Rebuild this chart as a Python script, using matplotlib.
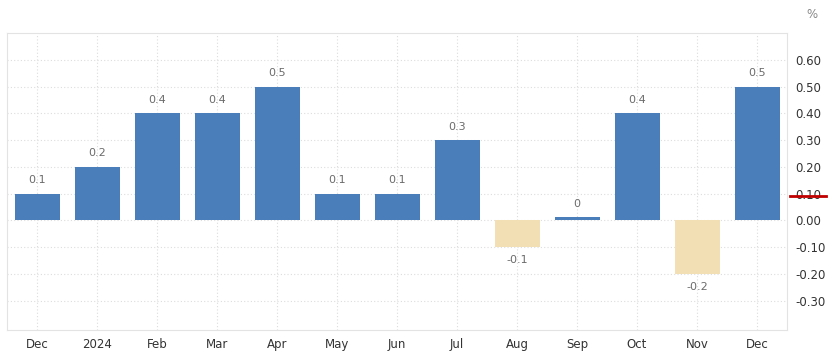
import matplotlib
matplotlib.use("Agg")
import matplotlib.pyplot as plt
import matplotlib.transforms as mtransforms

# monthly change, %
months = ["Dec", "2024", "Feb", "Mar", "Apr", "May", "Jun", "Jul",
          "Aug", "Sep", "Oct", "Nov", "Dec"]
values = [0.1, 0.2, 0.4, 0.4, 0.5, 0.1, 0.1, 0.3, -0.1, 0.0, 0.4, -0.2, 0.5]
value_labels = ["0.1", "0.2", "0.4", "0.4", "0.5", "0.1", "0.1", "0.3",
                "-0.1", "0", "0.4", "-0.2", "0.5"]
y_ticks = [-0.3, -0.2, -0.1, 0.0, 0.1, 0.2, 0.3, 0.4, 0.5, 0.6]
marker_value = 0.09  # red marker on the right axis

blue = "#4a7ebb"
beige = "#f2dfb4"

fig = plt.figure(figsize=(8.3, 3.52), dpi=100)
ax = fig.add_axes([7 / 830, 22 / 352, 780 / 830, 297 / 352])

x = list(range(len(values)))
colors = [blue if v >= 0 else beige for v in values]
heights = [v if v != 0 else 0.012 for v in values]
ax.bar(x, heights, width=0.75, color=colors, zorder=3)

for xi, v, lab in zip(x, values, value_labels):
    if v >= 0:
        ax.annotate(lab, (xi, max(v, 0.012)), xytext=(0, 6), textcoords="offset points",
                    ha="center", va="bottom", fontsize=8, color="#6b6b6b")
    else:
        ax.annotate(lab, (xi, v), xytext=(0, -6), textcoords="offset points",
                    ha="center", va="top", fontsize=8, color="#6b6b6b")

ax.set_xlim(-0.5, len(values) - 0.5)
ax.set_ylim(-0.41, 0.70)
ax.set_xticks(x)
ax.set_xticklabels(months)
ax.set_yticks(y_ticks)
ax.set_yticklabels(["%.2f" % t for t in y_ticks])
ax.yaxis.tick_right()
ax.tick_params(axis="both", length=0, labelsize=8.5, colors="#333333")
ax.tick_params(axis="y", pad=6)
ax.tick_params(axis="x", pad=6)

ax.grid(True, color="#dddddd", linestyle=(0, (1, 2)), linewidth=0.8, zorder=0)
for s in ax.spines.values():
    s.set_color("#e3e3e3")
    s.set_linewidth(0.8)

# red marker line next to the right axis
trans = mtransforms.blended_transform_factory(ax.transAxes, ax.transData)
ax.plot([1.004, 1.05], [marker_value, marker_value], transform=trans,
        color="#c00000", linewidth=2, clip_on=False, zorder=5)

fig.text(812 / 830, 1 - 15 / 352, "%", fontsize=8.5, color="#888888",
         ha="center", va="center")

fig.savefig("out.png", dpi=100)
